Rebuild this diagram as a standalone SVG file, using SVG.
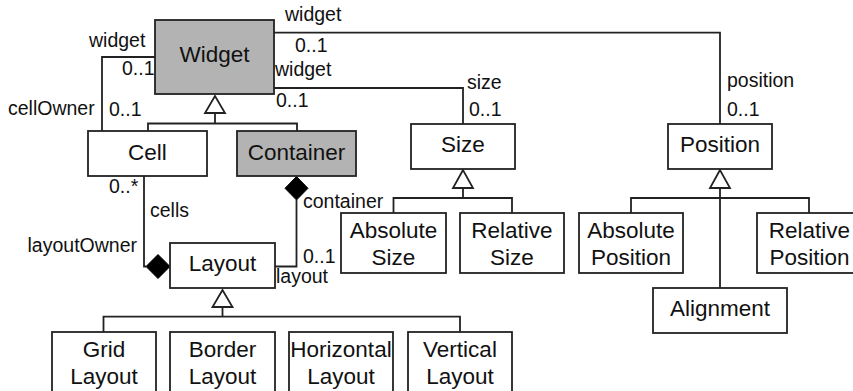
<svg xmlns="http://www.w3.org/2000/svg" width="853" height="391" viewBox="0 0 853 391">
<style>
.box{fill:#fff;stroke:#222;stroke-width:1.8}
.g{fill:#b3b3b3}
.t{font-family:"Liberation Sans",Arial,sans-serif;font-size:22.5px;fill:#111;text-anchor:middle}
.l{font-family:"Liberation Sans",Arial,sans-serif;font-size:19.5px;fill:#111}
.c{fill:none;stroke:#222;stroke-width:1.8}
.tri{fill:#fff;stroke:#222;stroke-width:1.8}
.dia{fill:#000;stroke:#000;stroke-width:1}
</style>
<rect width="853" height="391" fill="#fff"/>
<g id="connectors">
<path class="c" d="M274,32.7 H720 V124"/>
<path class="c" d="M274,88 H463 V124"/>
<path class="c" d="M155,57 H102 V131"/>
<path class="c" d="M215,113 V123.5 M148,131 V123.5 H297 V131"/>
<polygon class="tri" points="215,96 205,113 225,113"/>
<path class="c" d="M463,188 V198 M393.5,213 V198 H512 V213"/>
<polygon class="tri" points="463,170 453,188 473,188"/>
<path class="c" d="M720,188 V288 M631,213 V198 H809 V213"/>
<polygon class="tri" points="720,170 710,188 730,188"/>
<path class="c" d="M222.5,307 V316.7 M103.5,332 V316.7 H460 V332"/>
<polygon class="tri" points="222.5,290 212.5,307 232.5,307"/>
<path class="c" d="M144,176 V266.5 H146"/>
<polygon class="dia" points="146,266.5 158,254.5 170,266.5 158,278.5"/>
<path class="c" d="M296.5,200 V266.5 H275"/>
<polygon class="dia" points="296.5,176.5 308,188.3 296.5,200 285,188.3"/>
<text class="l" x="285" y="21">widget</text>
<text class="l" x="295" y="52">0..1</text>
<text class="l" x="89" y="47">widget</text>
<text class="l" x="122" y="75">0..1</text>
<text class="l" x="8" y="115">cellOwner</text>
<text class="l" x="109" y="116">0..1</text>
<text class="l" x="275" y="76">widget</text>
<text class="l" x="276" y="106.5">0..1</text>
<text class="l" x="467" y="89">size</text>
<text class="l" x="469" y="115.5">0..1</text>
<text class="l" x="727" y="87">position</text>
<text class="l" x="727" y="115.5">0..1</text>
<text class="l" x="109" y="193">0..*</text>
<text class="l" x="150" y="217">cells</text>
<text class="l" x="137" y="251.5" text-anchor="end">layoutOwner</text>
<text class="l" x="303" y="207.5">container</text>
<text class="l" x="303" y="263">0..1</text>
<text class="l" x="276" y="283">layout</text>
</g>
<g id="widget"><rect class="box g" x="155" y="20" width="119" height="74"/><text class="t" x="214.5" y="62">Widget</text></g>
<g id="cell"><rect class="box" x="88" y="131" width="119" height="45"/><text class="t" x="147.5" y="159.5">Cell</text></g>
<g id="container"><rect class="box g" x="237" y="131" width="119" height="45"/><text class="t" x="296.5" y="159.5">Container</text></g>
<g id="size"><rect class="box" x="411" y="124" width="104" height="45"/><text class="t" x="463" y="152">Size</text></g>
<g id="position"><rect class="box" x="668" y="124" width="104" height="45"/><text class="t" x="720" y="152">Position</text></g>
<g id="absoluteSize"><rect class="box" x="341" y="213" width="105" height="60"/><text class="t" x="393.5" y="238">Absolute</text><text class="t" x="393.5" y="265">Size</text></g>
<g id="relativeSize"><rect class="box" x="460" y="213" width="104" height="60"/><text class="t" x="512" y="238">Relative</text><text class="t" x="512" y="265">Size</text></g>
<g id="absolutePosition"><rect class="box" x="579" y="213" width="104" height="60"/><text class="t" x="631" y="238">Absolute</text><text class="t" x="631" y="265">Position</text></g>
<g id="relativePosition"><rect class="box" x="757" y="213" width="105" height="60"/><text class="t" x="809.5" y="238">Relative</text><text class="t" x="809.5" y="265">Position</text></g>
<g id="alignment"><rect class="box" x="653" y="288" width="134" height="45"/><text class="t" x="720" y="316">Alignment</text></g>
<g id="layout"><rect class="box" x="170" y="243" width="105" height="45"/><text class="t" x="222.5" y="271">Layout</text></g>
<g id="gridLayout"><rect class="box" x="52" y="332" width="104" height="65"/><text class="t" x="104" y="357">Grid</text><text class="t" x="104" y="383.5">Layout</text></g>
<g id="borderLayout"><rect class="box" x="170" y="332" width="105" height="65"/><text class="t" x="222.5" y="357">Border</text><text class="t" x="222.5" y="383.5">Layout</text></g>
<g id="horizontalLayout"><rect class="box" x="289" y="332" width="104" height="65"/><text class="t" x="341" y="357">Horizontal</text><text class="t" x="341" y="383.5">Layout</text></g>
<g id="verticalLayout"><rect class="box" x="408" y="332" width="104" height="65"/><text class="t" x="460" y="357">Vertical</text><text class="t" x="460" y="383.5">Layout</text></g>
</svg>
